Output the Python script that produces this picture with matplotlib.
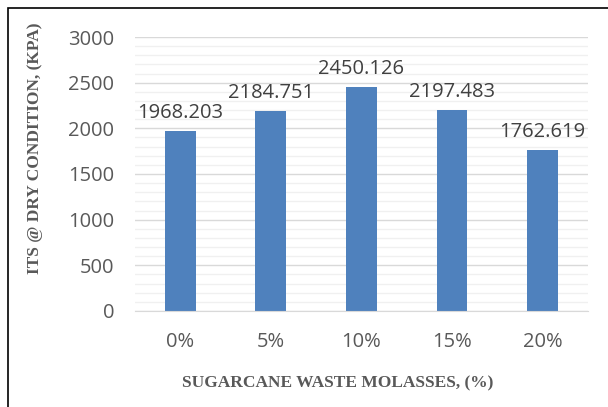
import matplotlib.pyplot as plt
from matplotlib.patches import Rectangle
from matplotlib.ticker import MultipleLocator

categories = ["0%", "5%", "10%", "15%", "20%"]
its_dry = [1968.203, 2184.751, 2450.126, 2197.483, 1762.619]
value_labels = ["1968.203", "2184.751", "2450.126", "2197.483", "1762.619"]

grey = "#595959"

fig = plt.figure(figsize=(6.08, 4.07), dpi=100)
ax = fig.add_axes([0.222, 0.236, 0.745, 0.673])

x = range(len(categories))
bars = ax.bar(x, its_dry, width=0.34, color="#4f81bd", zorder=3)
for b, lab in zip(bars, value_labels):
    ax.text(b.get_x() + b.get_width() / 2, b.get_height() + 90, lab,
            ha="center", va="bottom", fontsize=14.5, color="#404040",
            family="Open Sans", zorder=4)

ax.set_xlim(-0.5, len(categories) - 0.5)
ax.set_ylim(0, 3000)
ax.yaxis.set_major_locator(MultipleLocator(500))
ax.yaxis.set_minor_locator(MultipleLocator(100))
ax.grid(axis="y", which="major", color="#d9d9d9", linewidth=1.0, zorder=0)
ax.grid(axis="y", which="minor", color="#f0f0f0", linewidth=1.0, zorder=0)

ax.set_xticks(list(x))
ax.set_xticklabels(categories)
for s in ["top", "right", "left"]:
    ax.spines[s].set_visible(False)
ax.spines["bottom"].set_color("#d9d9d9")
ax.spines["bottom"].set_zorder(5)
ax.tick_params(axis="both", which="both", length=0, labelsize=14.5,
               labelcolor=grey)
ax.tick_params(axis="x", pad=15)
ax.tick_params(axis="y", pad=15)
for t in ax.get_xticklabels() + ax.get_yticklabels():
    t.set_family("Open Sans")

fig.text(0.555, 0.059, "SUGARCANE WASTE MOLASSES, (%)", ha="center", va="center",
         fontsize=12.5, fontweight="bold", color=grey, family="Liberation Serif")
fig.text(0.058, 0.636, "ITS @ DRY CONDITION, (KPA)", ha="center", va="center",
         rotation=90, fontsize=12.5, fontweight="bold", color=grey,
         family="Liberation Serif")

# outer chart border (cropped on right and bottom)
fig.patches.append(Rectangle((8 / 608, -0.1), 1.2, 1 - 8 / 407 + 0.1,
                             transform=fig.transFigure, fill=False,
                             edgecolor="black", linewidth=1.2))

fig.savefig("out.png", dpi=100)
